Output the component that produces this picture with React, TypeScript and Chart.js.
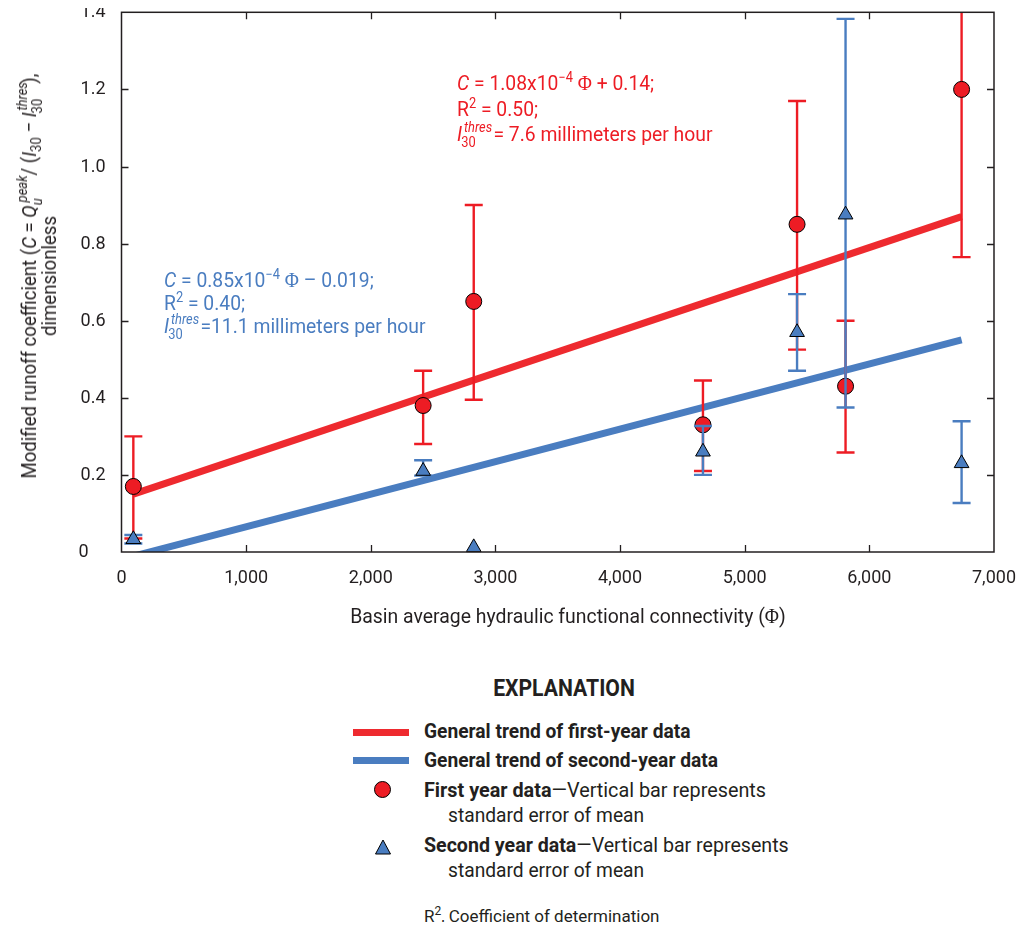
import React, { useEffect, useRef, useState } from 'react';
import { Chart, registerables } from 'chart.js';

Chart.register(...registerables);

const FONT = "'Liberation Sans Narrow', 'Arial Narrow', 'Roboto', sans-serif";
const SERIF = "'Liberation Serif', 'DejaVu Serif', serif";
const RED = '#ED1C24';
const RED_LINE = '#EE2A2F';
const BLUE = '#4A7DC0';
const INK = '#231F20';
const PAGE = 8;
const CANVAS_TOP = -8;

// Basin average hydraulic functional connectivity (Phi) of each basin
const phi = [95, 2420, 2826, 4665, 5420, 5809, 6740];

// First-year data: mean and standard-error bar ends
const firstYear = [0.17, 0.38, 0.65, 0.33, 0.85, 0.43, 1.2];
const firstYearLow = [0.035, 0.28, 0.395, 0.21, 0.525, 0.258, 0.765];
const firstYearHigh = [0.3, 0.47, 0.9, 0.445, 1.17, 0.6, 1.63];

// Second-year data: mean and standard-error bar ends
const secondYear = [0.033, 0.21, 0.012, 0.26, 0.57, 0.875, 0.23];
const secondYearLow = [0.022, 0.198, null, 0.2, 0.47, 0.375, 0.127];
const secondYearHigh = [0.044, 0.238, null, 0.327, 0.669, 1.383, 0.339];

// Trend lines (end points)
const trendPhi = [95, 6740];
const trendFirst = [0.15, 0.87];
const trendSecond = [-0.011, 0.55];

const xTickLabels = ['0', '1,000', '2,000', '3,000', '4,000', '5,000', '6,000', '7,000'];
const yTickLabels = ['0', '0.2', '0.4', '0.6', '0.8', '1.0', '1.2', '1.4'];

const errorBarPlugin = {
  id: 'errorBars',
  beforeDatasetDraw(chart: any, args: any) {
    const ds: any = chart.data.datasets[args.index];
    if (!ds.errLow) return;
    const { ctx, chartArea, scales } = chart;
    const x = scales.x;
    const y = scales.y;
    ctx.save();
    ctx.beginPath();
    ctx.rect(chartArea.left, chartArea.top, chartArea.right - chartArea.left, chartArea.bottom - chartArea.top);
    ctx.clip();
    ctx.strokeStyle = ds.errColor;
    ctx.lineWidth = 2.4;
    ctx.lineCap = 'butt';
    ds.data.forEach((p: any, i: number) => {
      const lo = ds.errLow[i];
      const hi = ds.errHigh[i];
      if (lo == null || hi == null) return;
      const px = x.getPixelForValue(p.x);
      const p1 = y.getPixelForValue(lo);
      const p2 = y.getPixelForValue(hi);
      ctx.beginPath();
      ctx.moveTo(px, p1);
      ctx.lineTo(px, p2);
      ctx.moveTo(px - 9, p1);
      ctx.lineTo(px + 9, p1);
      ctx.moveTo(px - 9, p2);
      ctx.lineTo(px + 9, p2);
      ctx.stroke();
    });
    ctx.restore();
  },
};

const framePlugin = {
  id: 'frame',
  afterDraw(chart: any) {
    const { ctx, chartArea, scales } = chart;
    const { left, right, top, bottom } = chartArea;
    const x = scales.x;
    const y = scales.y;
    ctx.save();
    ctx.strokeStyle = INK;
    ctx.lineWidth = 1.5;
    ctx.strokeRect(left, top, right - left, bottom - top);
    ctx.lineWidth = 1.3;
    ctx.beginPath();
    x.ticks.forEach((t: any) => {
      if (t.value <= x.min || t.value >= x.max) return;
      const px = Math.round(x.getPixelForValue(t.value)) + 0.5;
      ctx.moveTo(px, bottom);
      ctx.lineTo(px, bottom - 7);
      ctx.moveTo(px, top);
      ctx.lineTo(px, top + 7);
    });
    y.ticks.forEach((t: any) => {
      if (t.value <= y.min + 1e-9 || t.value >= y.max - 1e-9) return;
      const py = Math.round(y.getPixelForValue(t.value)) + 0.5;
      ctx.moveTo(left, py);
      ctx.lineTo(left + 7, py);
      ctx.moveTo(right, py);
      ctx.lineTo(right - 7, py);
    });
    ctx.stroke();
    ctx.restore();
  },
};

function Txt({ x, y, size, color = INK, bold = false, children, style, sx = 1, center = false }: any) {
  return (
    <div
      style={{
        position: 'absolute',
        left: x - PAGE,
        top: y - PAGE - 0.85 * size,
        fontSize: size,
        lineHeight: 1,
        color,
        fontWeight: bold ? 700 : 400,
        whiteSpace: 'nowrap',
        fontFamily: FONT,
        transformOrigin: '0 0',
        transform: center ? `scaleX(${sx}) translateX(-50%)` : `scaleX(${sx})`,
        ...style,
      }}
    >
      {children}
    </div>
  );
}

function Sup({ children, size = 14, rise = 8, italic = false }: any) {
  return (
    <span style={{ fontSize: size, position: 'relative', top: -rise, fontStyle: italic ? 'italic' : 'normal' }}>
      {children}
    </span>
  );
}

function Sub({ children, size = 14, drop = 5 }: any) {
  return <span style={{ fontSize: size, position: 'relative', top: drop }}>{children}</span>;
}

function SubSup({ sup, sub, width, size = 14, rise = 9, drop = 6, supLeft = 2, subLeft = -1 }: any) {
  return (
    <span style={{ position: 'relative', display: 'inline-block', width, height: 0 }}>
      <span
        style={{
          position: 'absolute',
          left: supLeft,
          top: -rise - 0.85 * size,
          fontSize: size,
          lineHeight: 1,
          fontStyle: 'italic',
          whiteSpace: 'nowrap',
        }}
      >
        {sup}
      </span>
      <span
        style={{
          position: 'absolute',
          left: subLeft,
          top: drop - 0.85 * size,
          fontSize: size,
          lineHeight: 1,
          fontStyle: 'normal',
          whiteSpace: 'nowrap',
        }}
      >
        {sub}
      </span>
    </span>
  );
}

const Phi = () => <span style={{ fontFamily: SERIF }}>Φ</span>;

export default function App() {
  const canvasRef = useRef<HTMLCanvasElement | null>(null);
  const [yTicks, setYTicks] = useState<{ label: string; py: number; left: number }[]>([]);

  useEffect(() => {
    const canvas = canvasRef.current;
    if (!canvas) return;
    const chart = new Chart(canvas, {
      type: 'scatter',
      data: {
        datasets: [
          {
            type: 'line',
            label: 'General trend of first-year data',
            data: trendPhi.map((v, i) => ({ x: v, y: trendFirst[i] })),
            borderColor: RED_LINE,
            borderWidth: 7,
            pointRadius: 0,
            fill: false,
            clip: 0,
            order: 3,
          } as any,
          {
            type: 'line',
            label: 'General trend of second-year data',
            data: trendPhi.map((v, i) => ({ x: v, y: trendSecond[i] })),
            borderColor: BLUE,
            borderWidth: 7,
            pointRadius: 0,
            fill: false,
            clip: 0,
            order: 4,
          } as any,
          {
            type: 'scatter',
            label: 'First year data',
            data: phi.map((v, i) => ({ x: v, y: firstYear[i] })),
            pointStyle: 'circle',
            pointRadius: 8,
            backgroundColor: RED,
            borderColor: '#000',
            borderWidth: 1,
            errLow: firstYearLow,
            errHigh: firstYearHigh,
            errColor: RED,
            clip: false,
            order: 2,
          } as any,
          {
            type: 'scatter',
            label: 'Second year data',
            data: phi.map((v, i) => ({ x: v, y: secondYear[i] })),
            pointStyle: 'triangle',
            pointRadius: 8.5,
            backgroundColor: BLUE,
            borderColor: '#000',
            borderWidth: 1,
            errLow: secondYearLow,
            errHigh: secondYearHigh,
            errColor: BLUE,
            clip: false,
            order: 1,
          } as any,
        ],
      },
      options: {
        animation: false,
        responsive: false,
        events: [],
        layout: { autoPadding: false, padding: { left: 69.5, top: 12.3, right: 23.5, bottom: 0 } },
        plugins: { legend: { display: false }, tooltip: { enabled: false } },
        scales: {
          x: {
            type: 'linear',
            min: 0,
            max: 7000,
            grid: { display: false, drawTicks: false },
            border: { display: false },
            afterFit: (s: any) => {
              s.height = 104;
            },
            ticks: {
              stepSize: 1000,
              autoSkip: false,
              maxRotation: 0,
              padding: 16,
              color: INK,
              font: { family: FONT, size: 18 },
              callback: (_v: any, i: number) => xTickLabels[i],
            },
          },
          y: {
            type: 'linear',
            min: 0,
            max: 1.4,
            grid: { display: false, drawTicks: false },
            border: { display: false },
            afterFit: (s: any) => {
              s.width = 44;
            },
            ticks: {
              display: false,
              stepSize: 0.2,
              callback: (_v: any, i: number) => yTickLabels[i],
            },
          },
        },
      } as any,
      plugins: [errorBarPlugin, framePlugin],
    });
    const ys: any = chart.scales.y;
    const left = chart.chartArea.left;
    setYTicks(
      ys.ticks.map((t: any, i: number) => ({
        label: yTickLabels[i],
        py: ys.getPixelForValue(t.value) + CANVAS_TOP,
        left,
      }))
    );
    return () => chart.destroy();
  }, []);

  return (
    <div style={{ position: 'relative', width: 1016, height: 914, fontFamily: FONT, color: INK }}>
      <canvas
        ref={canvasRef}
        width={1024}
        height={656}
        style={{ position: 'absolute', left: 0, top: CANVAS_TOP, width: 1024, height: 656 }}
      />

      {/* Y tick labels (positions from the chart's y scale) */}
      {yTicks.map((t, i) => (
        <div
          key={t.label}
          style={{
            position: 'absolute',
            top: t.py - 1 - 9,
            left: i === 0 ? t.left - 43 : t.left - 16,
            transform: i === 0 ? 'none' : 'translateX(-100%)',
            fontSize: 18,
            lineHeight: '18px',
            whiteSpace: 'nowrap',
          }}
        >
          {t.label}
        </div>
      ))}

      {/* Y axis title */}
      <div
        style={{
          position: 'absolute',
          left: 31,
          top: 268,
          transform: 'translate(-50%, -50%) rotate(-90deg) scaleX(0.93)',
          whiteSpace: 'nowrap',
          textAlign: 'center',
          fontSize: 20,
          lineHeight: '18px',
        }}
      >
        <div>
          Modified runoff coefficient (<i>C</i> = <i>Q</i>
          <SubSup sup="peak" sub={<i>u</i>} width={32} supLeft={3} subLeft={0} />/ (<i>I</i>
          <Sub>30</Sub> − <i>I</i>
          <SubSup sup="thres" sub="30" width={31} />),
        </div>
        <div>dimensionless</div>
      </div>

      {/* X axis title */}
      <Txt x={568} y={623} size={20} sx={0.97} center>
        Basin average hydraulic functional connectivity (<Phi />)
      </Txt>

      {/* Red annotation */}
      <Txt x={457} y={91} size={21} sx={0.92} color={RED}>
        <i>C</i> = 1.08x10<Sup>−4</Sup> <Phi /> + 0.14;
      </Txt>
      <Txt x={457} y={117} size={21} sx={0.92} color={RED}>
        R<Sup>2</Sup> = 0.50;
      </Txt>
      <Txt x={457} y={142} size={21} sx={0.92} color={RED}>
        <i>I</i>
        <SubSup sup="thres" sub="30" width={34} />= 7.6 millimeters per hour
      </Txt>

      {/* Blue annotation */}
      <Txt x={164} y={288} size={21} sx={0.92} color={BLUE}>
        <i>C</i> = 0.85x10<Sup>−4</Sup> <Phi /> – 0.019;
      </Txt>
      <Txt x={164} y={311} size={21} sx={0.92} color={BLUE}>
        R<Sup>2</Sup> = 0.40;
      </Txt>
      <Txt x={164} y={334} size={21} sx={0.92} color={BLUE}>
        <i>I</i>
        <SubSup sup="thres" sub="30" width={34} />=11.1 millimeters per hour
      </Txt>

      {/* Explanation */}
      <Txt x={564} y={697} size={23} sx={0.92} bold center>
        EXPLANATION
      </Txt>
      <div style={{ position: 'absolute', left: 353 - PAGE, top: 732 - PAGE - 3.5, width: 56, height: 7, background: RED_LINE }} />
      <Txt x={424} y={738} size={20} sx={0.96} bold>
        General trend of first-year data
      </Txt>
      <div style={{ position: 'absolute', left: 353 - PAGE, top: 760 - PAGE - 3.5, width: 56, height: 7, background: BLUE }} />
      <Txt x={424} y={767} size={20} sx={0.96} bold>
        General trend of second-year data
      </Txt>
      <div
        style={{
          position: 'absolute',
          left: 382 - PAGE - 8.5,
          top: 789 - PAGE - 8.5,
          width: 15,
          height: 15,
          borderRadius: '50%',
          background: RED,
          border: '1px solid #000',
        }}
      />
      <Txt x={424} y={797} size={20} sx={0.99}>
        <b>First year data</b>—Vertical bar represents
      </Txt>
      <Txt x={448} y={822} size={20} sx={0.96}>
        standard error of mean
      </Txt>
      <svg
        width={18}
        height={16}
        style={{ position: 'absolute', left: 383 - PAGE - 9, top: 848 - PAGE - 9 }}
      >
        <polygon points="9,1 16.5,15 1.5,15" fill={BLUE} stroke="#000" strokeWidth={1} />
      </svg>
      <Txt x={424} y={852} size={20} sx={0.98}>
        <b>Second year data</b>—Vertical bar represents
      </Txt>
      <Txt x={448} y={877} size={20} sx={0.96}>
        standard error of mean
      </Txt>
      <Txt x={424} y={922} size={17}>
        R<Sup size={12} rise={7}>2</Sup>, Coefficient of determination
      </Txt>
    </div>
  );
}
